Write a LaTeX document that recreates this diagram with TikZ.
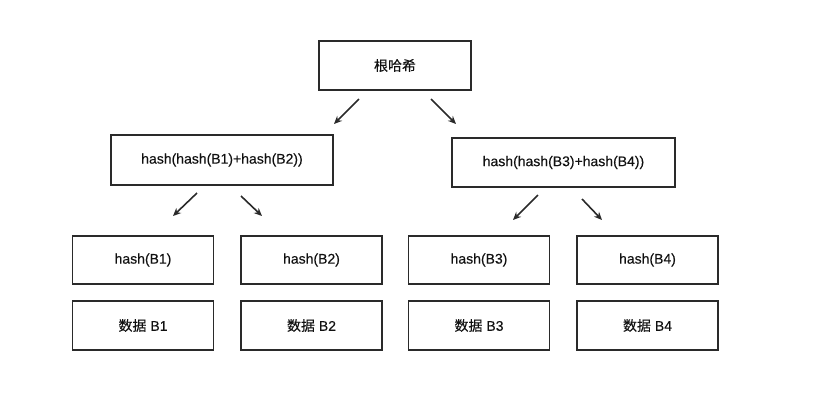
\documentclass[tikz,border=0pt]{standalone}
\usepackage{fontspec}
\setmainfont{Liberation Sans}[UprightFeatures={FakeBold=0.25}]
\newfontfamily\cjk{Noto Sans CJK SC}[UprightFeatures={FakeBold=0.2}]
\usepackage{tikz}
\usetikzlibrary{arrows.meta}

\definecolor{boxline}{HTML}{2A2A2A}
\definecolor{txt}{HTML}{111111}

\begin{document}
\begin{tikzpicture}[x=1pt, y=-1pt,
  box/.style={draw=boxline, line width=1.5pt, inner sep=0pt, text=txt,
    font=\fontsize{14}{16}\selectfont},
  arr/.style={-{Stealth[length=8pt,width=7pt]}, line width=1.6pt, draw=boxline}]
  \useasboundingbox (0,0) rectangle (820,405);
  % root and middle level
  \node[box, minimum width=152pt, minimum height=49pt] (root) at (395,65.5) {\cjk 根哈希};
  \node[box, minimum width=222pt, minimum height=50pt] (lmid) at (222,160) {hash(hash(B1)+hash(B2))};
  \node[box, minimum width=223pt, minimum height=49pt] (rmid) at (563.5,162.5) {hash(hash(B3)+hash(B4))};
  % leaves
  \foreach \i/\x in {1/143,2/311.5,3/479,4/647.5} {
    \node[box, minimum width=141pt, minimum height=48pt] (h\i) at (\x,260) {hash(B\i)};
    \node[box, minimum width=141pt, minimum height=49pt] (d\i) at (\x,325.5) {{\cjk 数据} B\i};
  }
  % arrows
  \coordinate (rl0) at (359,99);  \coordinate (rl1) at (334,124);
  \coordinate (rr0) at (431,99);  \coordinate (rr1) at (456,124);
  \coordinate (l10) at (197,193); \coordinate (l11) at (173,216);
  \coordinate (l20) at (241,196); \coordinate (l21) at (262,216);
  \coordinate (r30) at (538,195); \coordinate (r31) at (513,220);
  \coordinate (r40) at (582,199); \coordinate (r41) at (602,220);
  \foreach \a in {rl,rr,l1,l2,r3,r4}
    \draw[arr] (\a0) -- (\a1);
\end{tikzpicture}
\end{document}
